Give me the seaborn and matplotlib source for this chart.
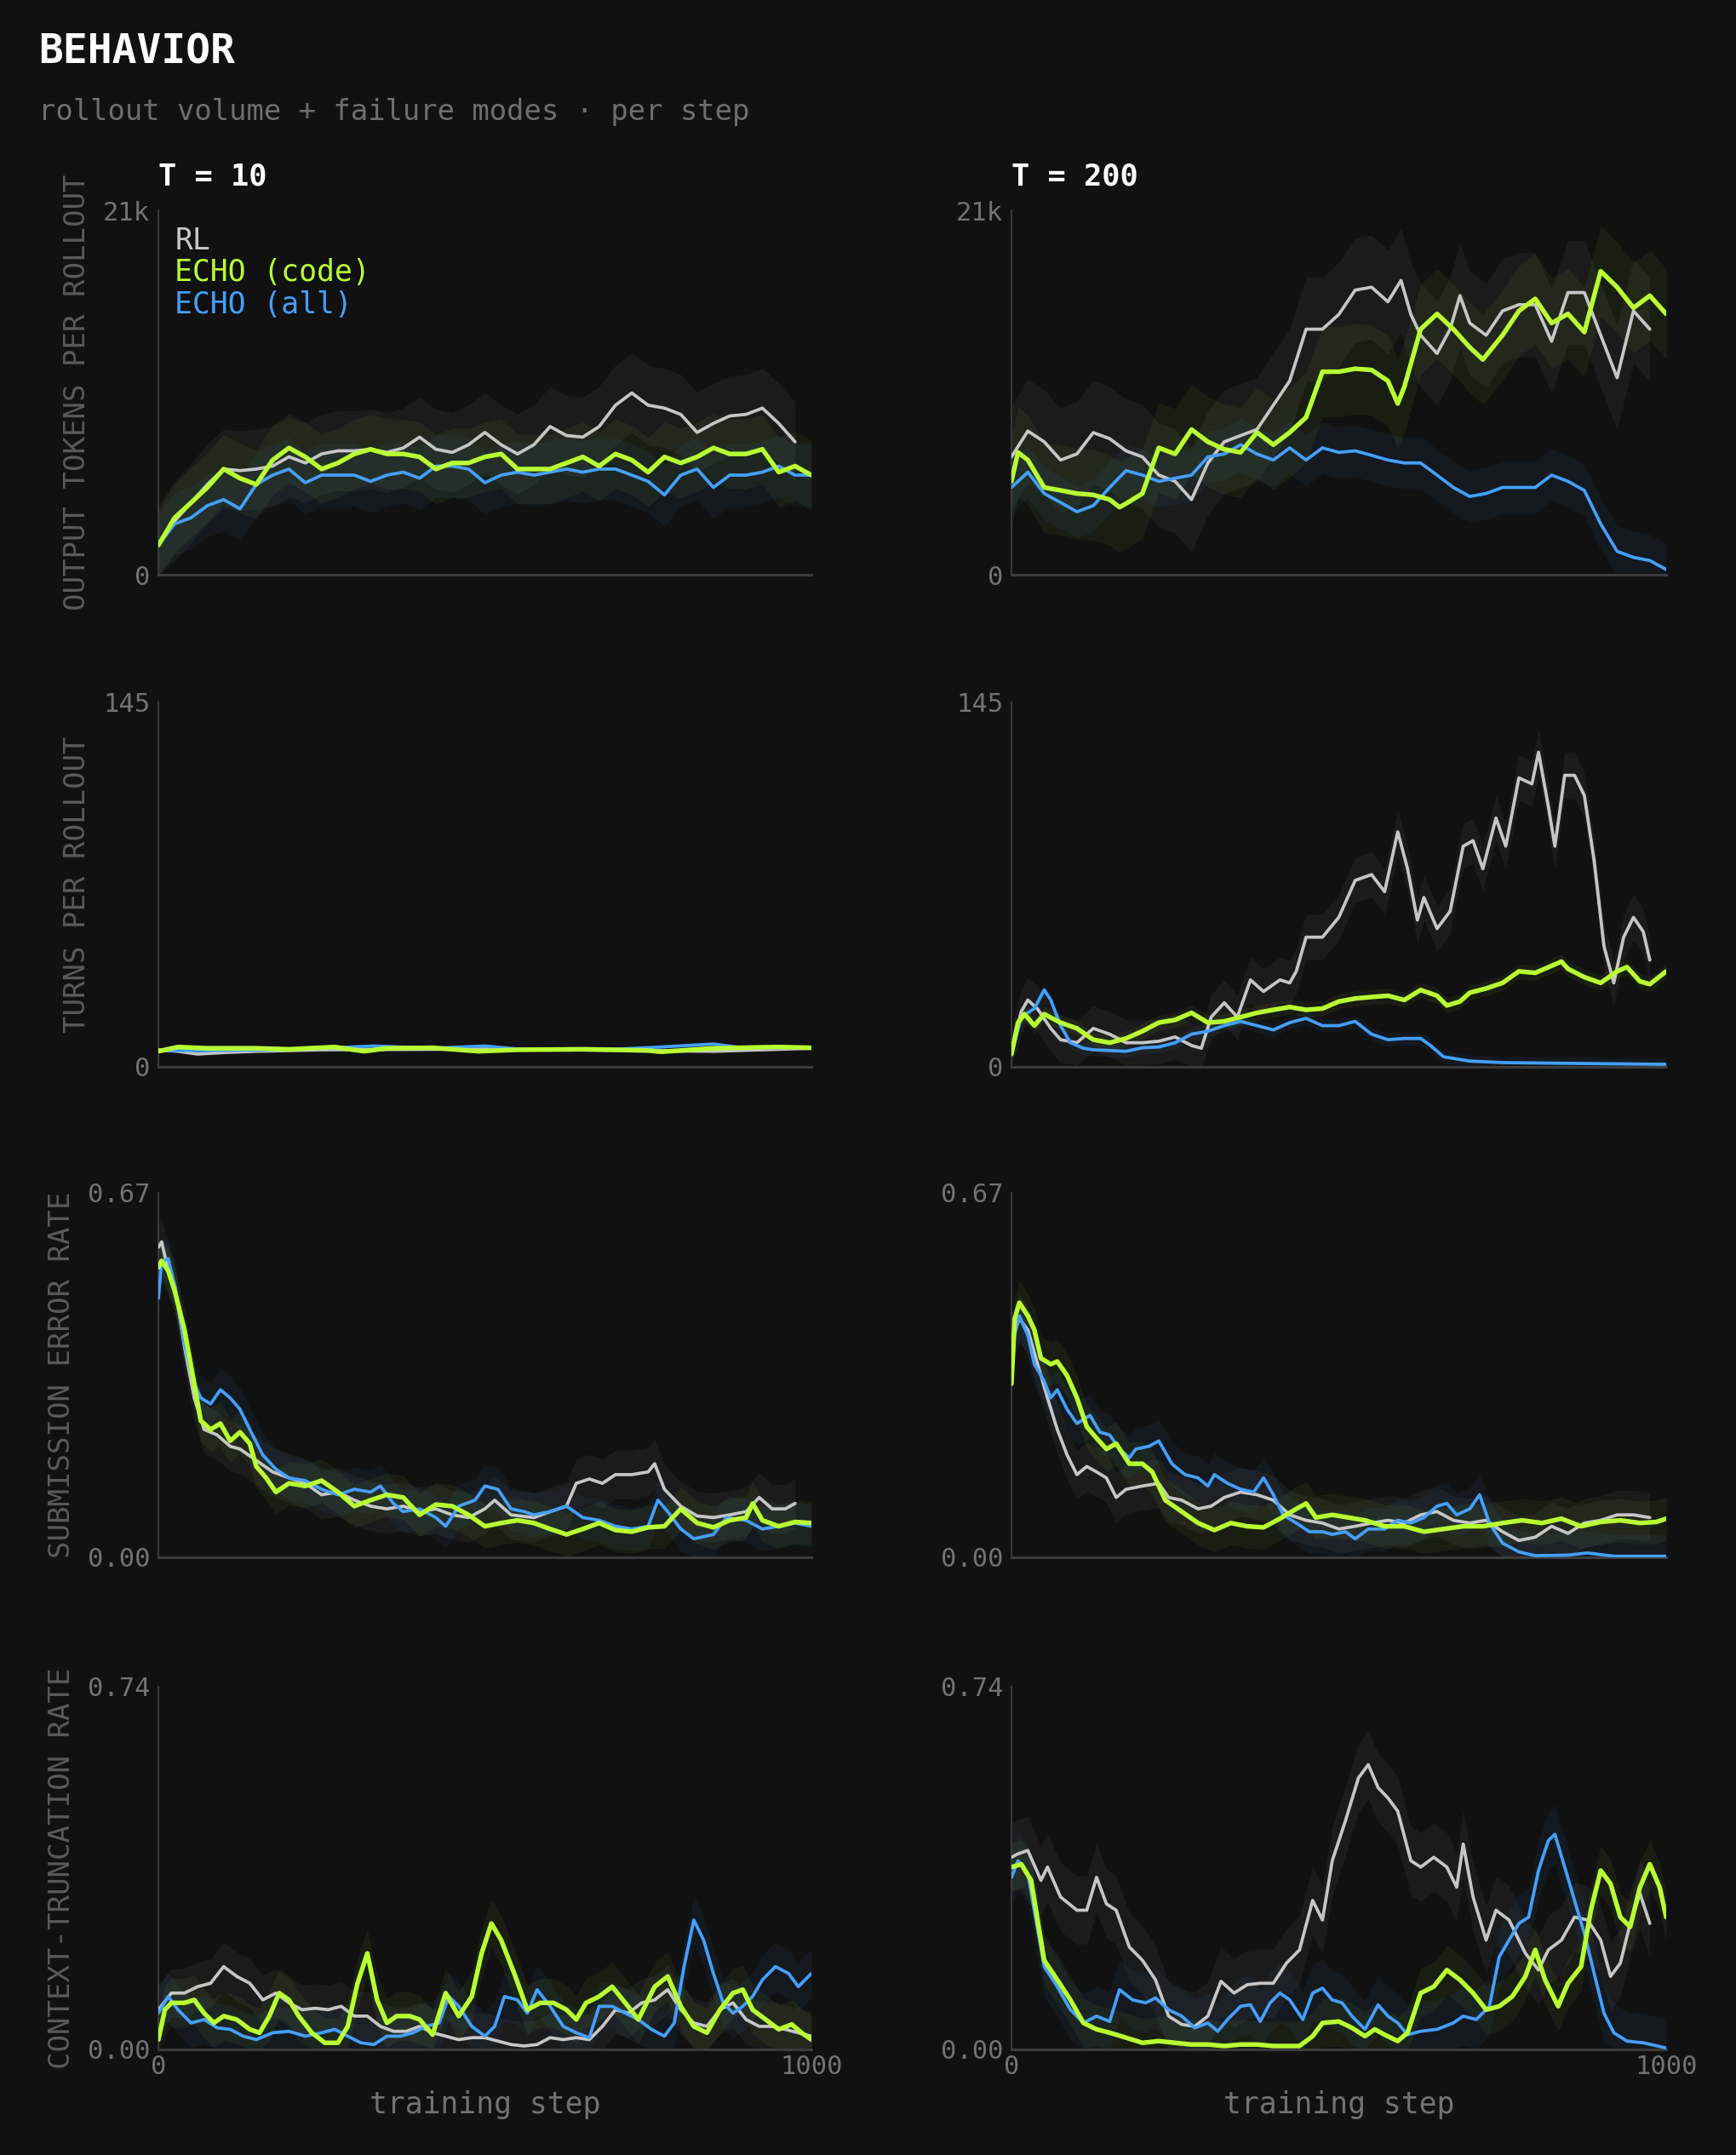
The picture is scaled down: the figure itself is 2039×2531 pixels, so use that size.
import matplotlib
matplotlib.use("Agg")
import matplotlib.pyplot as plt
import seaborn as sns
import pandas as pd

# ---------------- data ----------------
series_names = ["RL", "ECHO (code)", "ECHO (all)"]
col_titles = ["T = 10", "T = 200"]
row_labels = ["OUTPUT TOKENS PER ROLLOUT", "TURNS PER ROLLOUT",
              "SUBMISSION ERROR RATE", "CONTEXT-TRUNCATION RATE"]
row_ymax = [21000, 145, 0.67, 0.74]
row_yticklabels = [["0", "21k"], ["0", "145"], ["0.00", "0.67"], ["0.00", "0.74"]]
x_ticks = [0, 1000]
x_ticklabels = ["0", "1000"]

# Output tokens, T=10
tok10_rl = [(0,1700),(25,3100),(50,4150),(75,5200),(100,6090),(125,6000),(150,6090),(175,6260),(200,6800),(225,6440),(250,6960),(275,7140),(300,7140),(325,7230),(350,7050),(375,7300),(400,7930),(425,7230),(450,7050),(475,7490),(500,8200),(525,7490),(550,6960),(575,7490),(600,8540),(625,8020),(650,7930),(675,8540),(700,9770),(725,10470),(750,9770),(775,9600),(800,9240),(825,8200),(850,8720),(875,9150),(900,9240),(925,9600),(950,8720),(975,7660)]
tok10_code = [(0,1700),(25,3280),(50,4150),(75,5030),(100,6090),(125,5560),(150,5200),(175,6610),(200,7310),(225,6790),(250,6090),(275,6440),(300,6960),(325,7230),(350,6960),(375,6960),(400,6790),(425,6090),(450,6440),(475,6440),(500,6790),(525,6960),(550,6090),(575,6090),(600,6090),(625,6440),(650,6790),(675,6260),(700,6960),(725,6610),(750,5910),(775,6790),(800,6440),(825,6790),(850,7310),(875,6960),(900,6960),(925,7230),(950,5910),(975,6260),(1000,5740)]
tok10_all = [(0,1700),(25,2930),(50,3280),(75,3980),(100,4330),(125,3800),(150,5200),(175,5740),(200,6090),(225,5300),(250,5740),(275,5740),(300,5740),(325,5380),(350,5740),(375,5910),(400,5560),(425,6260),(450,6260),(475,6090),(500,5300),(525,5740),(550,5910),(575,5740),(600,5910),(625,6090),(650,5910),(675,6090),(700,6090),(725,5740),(750,5380),(775,4600),(800,5740),(825,6090),(850,5030),(875,5740),(900,5740),(925,5910),(950,6260),(975,5740),(1000,5740)]

# Output tokens, T=200
tok200_rl = [(0,6790),(25,8280),(50,7660),(75,6610),(100,6960),(125,8190),(150,7840),(175,7140),(200,6790),(225,5740),(250,5380),(275,4330),(300,6440),(325,7660),(350,8020),(375,8370),(400,9770),(425,11170),(450,14150),(475,14150),(500,15000),(525,16400),(550,16570),(575,15730),(595,16960),(610,15000),(625,13800),(650,12750),(670,14150),(685,16080),(700,14500),(725,13800),(750,15200),(775,15560),(800,15560),(825,13450),(850,16260),(875,16260),(900,13800),(925,11350),(950,15200),(975,14150)]
tok200_code = [(0,5380),(10,7050),(25,6610),(50,5030),(75,4860),(100,4680),(125,4600),(150,4330),(165,3890),(175,4100),(200,4680),(225,7310),(250,6960),(275,8370),(300,7660),(325,7230),(350,7050),(375,8200),(400,7490),(425,8200),(450,9070),(475,11700),(500,11700),(525,11870),(550,11800),(575,11170),(590,9860),(600,10820),(625,14150),(650,15030),(675,14150),(700,13100),(720,12400),(750,13800),(775,15200),(800,15900),(825,14500),(850,15030),(875,13980),(900,17490),(925,16570),(950,15380),(975,16080),(1000,15030)]
tok200_all = [(0,5030),(25,5910),(50,4680),(75,4160),(100,3630),(125,3980),(150,5030),(175,6000),(200,5740),(225,5380),(250,5560),(275,5740),(300,6790),(325,6960),(350,7490),(375,6960),(400,6610),(425,7310),(450,6610),(475,7310),(500,7050),(525,7140),(550,6880),(575,6610),(600,6440),(625,6440),(650,5740),(675,5030),(700,4510),(725,4680),(750,5030),(775,5030),(800,5030),(825,5740),(850,5380),(875,4860),(900,2930),(925,1350),(950,1000),(975,820),(1000,300)]

# Turns per rollout, T=10
turn10_rl = [(0,6.8),(30,6.2),(60,5.1),(100,5.7),(150,6.2),(250,6.8),(500,7.1),(700,6.6),(850,6.2),(1000,7.4)]
turn10_code = [(0,6.2),(30,7.9),(75,7.4),(150,7.4),(200,7.0),(270,7.9),(315,6.2),(350,7.4),(420,7.6),(490,6.2),(550,6.8),(650,7.0),(700,6.8),(750,6.5),(770,6.0),(850,7.4),(950,7.9),(1000,7.6)]
turn10_all = [(0,6.5),(50,6.5),(200,6.8),(330,8.3),(420,7.4),(500,8.3),(550,7.1),(700,7.0),(770,7.9),(850,9.1),(900,7.4),(1000,7.6)]

# Turns per rollout, T=200
turn200_rl = [(0,6.2),(15,22),(25,26.6),(40,23),(60,15.3),(75,10.8),(100,9.6),(125,15.3),(150,13),(175,9.6),(200,9.6),(225,10.2),(250,11.9),(275,8.5),(290,7.4),(305,19.8),(325,25.5),(345,19.8),(365,34.6),(385,30),(410,34.6),(425,33.4),(435,38),(450,51.6),(475,51.6),(500,59.5),(525,74.2),(550,76.5),(570,69.7),(590,93.5),(605,78.8),(620,58.4),(630,67.4),(650,55),(670,61.9),(690,87.8),(705,90),(720,78.8),(740,99),(755,87.8),(775,115),(795,112.6),(805,125.2),(820,103.7),(830,87.8),(845,116),(860,116),(875,108),(890,82),(905,48),(920,33.4),(935,51.6),(950,59.5),(965,53.8),(975,42.5)]
turn200_code = [(0,5.1),(10,17.6),(20,21),(35,16.4),(50,21),(75,17.6),(100,15.3),(125,10.8),(150,9.6),(175,11.3),(200,14.2),(225,17.6),(250,18.7),(275,21.5),(300,17.6),(325,18.1),(350,19.8),(375,21.5),(400,22.7),(425,23.8),(450,22.7),(475,23.2),(500,26),(525,27.2),(550,27.8),(575,28.3),(600,26.6),(625,30.6),(650,28.3),(665,24.4),(685,26),(700,29.5),(725,31.2),(750,33.4),(775,38),(800,37.4),(825,40.2),(840,41.9),(850,39),(875,35.7),(900,33.4),(925,38),(940,39.7),(960,34),(975,32.9),(1000,38)]
turn200_all = [(0,5.1),(15,19.8),(35,23.2),(50,30.6),(60,26.6),(75,16.4),(90,9.6),(110,7.4),(125,6.8),(150,6.5),(175,6.2),(200,7.6),(225,7.9),(250,9.6),(275,13),(300,14.2),(325,16.4),(350,18.1),(375,16.4),(400,14.7),(425,17.6),(450,19.3),(475,16.4),(500,16.4),(525,18.1),(550,13),(575,10.8),(600,11.3),(625,11.3),(640,8.5),(660,4),(700,2.3),(750,1.7),(850,1.4),(1000,1.0)]

# Submission error rate, T=10
sub10_rl = [(0,0.57),(5,0.58),(15,0.527),(25,0.50),(40,0.387),(55,0.293),(70,0.235),(90,0.225),(110,0.204),(125,0.199),(150,0.178),(175,0.157),(200,0.146),(225,0.136),(250,0.115),(275,0.12),(300,0.105),(325,0.094),(350,0.089),(375,0.094),(400,0.084),(425,0.089),(450,0.078),(475,0.073),(500,0.089),(515,0.105),(540,0.078),(575,0.073),(600,0.084),(625,0.094),(640,0.136),(660,0.144),(680,0.136),(700,0.152),(725,0.152),(750,0.157),(760,0.172),(775,0.125),(800,0.094),(825,0.076),(850,0.073),(875,0.078),(900,0.084),(920,0.11),(940,0.089),(960,0.089),(975,0.099)]
sub10_code = [(0,0.533),(5,0.545),(15,0.527),(25,0.49),(40,0.418),(55,0.319),(65,0.251),(80,0.235),(95,0.246),(110,0.214),(125,0.23),(140,0.209),(150,0.167),(165,0.146),(180,0.12),(200,0.136),(225,0.131),(250,0.141),(275,0.12),(300,0.094),(325,0.105),(350,0.115),(375,0.11),(400,0.078),(425,0.097),(450,0.094),(475,0.078),(500,0.057),(525,0.063),(550,0.068),(575,0.063),(600,0.052),(625,0.042),(650,0.052),(675,0.063),(700,0.05),(725,0.047),(750,0.055),(775,0.057),(800,0.089),(825,0.063),(850,0.055),(875,0.068),(900,0.073),(910,0.099),(925,0.068),(950,0.057),(975,0.065),(1000,0.063)]
sub10_all = [(0,0.476),(5,0.543),(15,0.549),(25,0.50),(40,0.392),(55,0.319),(65,0.293),(80,0.282),(95,0.308),(110,0.293),(125,0.272),(140,0.235),(160,0.188),(180,0.162),(200,0.146),(225,0.141),(250,0.125),(275,0.115),(300,0.125),(325,0.12),(340,0.131),(360,0.099),(375,0.084),(400,0.089),(425,0.073),(440,0.057),(460,0.094),(485,0.105),(500,0.131),(520,0.125),(540,0.089),(560,0.084),(575,0.078),(600,0.084),(625,0.094),(650,0.073),(675,0.068),(700,0.057),(725,0.052),(750,0.057),(765,0.105),(780,0.084),(800,0.052),(820,0.034),(850,0.042),(870,0.073),(900,0.068),(925,0.052),(950,0.057),(975,0.063),(1000,0.057)]

# Submission error rate, T=200
sub200_rl = [(0,0.40),(12,0.439),(25,0.418),(40,0.355),(55,0.293),(70,0.235),(85,0.188),(100,0.152),(115,0.167),(130,0.157),(145,0.146),(160,0.11),(175,0.125),(200,0.131),(225,0.136),(240,0.11),(260,0.105),(285,0.089),(305,0.094),(325,0.11),(350,0.12),(375,0.115),(400,0.105),(425,0.078),(450,0.068),(475,0.063),(500,0.052),(525,0.057),(550,0.063),(575,0.068),(600,0.063),(625,0.078),(650,0.084),(675,0.068),(700,0.063),(725,0.068),(750,0.047),(775,0.031),(800,0.037),(825,0.057),(850,0.044),(875,0.063),(900,0.068),(925,0.078),(950,0.078),(975,0.073)]
sub200_code = [(0,0.319),(5,0.439),(12,0.468),(25,0.444),(35,0.418),(45,0.366),(60,0.355),(70,0.36),(85,0.334),(100,0.293),(115,0.24),(130,0.219),(145,0.199),(160,0.209),(180,0.172),(200,0.172),(215,0.157),(235,0.105),(260,0.084),(285,0.063),(310,0.05),(335,0.063),(360,0.057),(385,0.055),(410,0.071),(435,0.089),(450,0.099),(465,0.073),(490,0.078),(515,0.073),(540,0.068),(570,0.057),(600,0.057),(630,0.047),(660,0.052),(690,0.057),(720,0.057),(750,0.063),(780,0.068),(810,0.063),(840,0.071),(870,0.057),(900,0.065),(930,0.068),(960,0.063),(985,0.065),(1000,0.071)]
sub200_all = [(0,0.387),(12,0.444),(25,0.408),(35,0.355),(50,0.324),(60,0.293),(70,0.308),(85,0.272),(100,0.246),(120,0.261),(135,0.23),(150,0.225),(165,0.199),(180,0.183),(190,0.199),(210,0.204),(225,0.214),(245,0.172),(265,0.152),(285,0.146),(300,0.131),(310,0.152),(330,0.136),(350,0.125),(370,0.12),(385,0.146),(400,0.115),(415,0.078),(435,0.063),(455,0.047),(475,0.047),(490,0.042),(510,0.047),(525,0.034),(545,0.052),(570,0.052),(590,0.068),(610,0.063),(630,0.073),(650,0.094),(665,0.099),(680,0.078),(700,0.089),(715,0.115),(730,0.063),(750,0.026),(775,0.010),(800,0.003),(850,0.004),(880,0.008),(920,0.002),(1000,0.002)]

# Context-truncation rate, T=10
ctx10_rl = [(0,0.081),(20,0.115),(40,0.115),(60,0.128),(80,0.135),(100,0.169),(120,0.149),(140,0.135),(160,0.101),(180,0.115),(200,0.095),(220,0.081),(240,0.084),(260,0.081),(280,0.088),(300,0.068),(320,0.068),(340,0.047),(360,0.037),(380,0.037),(400,0.047),(420,0.034),(440,0.027),(460,0.02),(480,0.024),(500,0.024),(520,0.017),(540,0.01),(560,0.007),(580,0.01),(600,0.024),(620,0.02),(640,0.024),(660,0.02),(680,0.047),(700,0.081),(720,0.074),(740,0.095),(760,0.101),(780,0.122),(800,0.081),(820,0.054),(840,0.047),(860,0.081),(880,0.095),(900,0.061),(920,0.047),(940,0.047),(960,0.041),(980,0.034),(1000,0.027)]
ctx10_code = [(0,0.02),(10,0.081),(20,0.095),(40,0.095),(55,0.101),(70,0.074),(85,0.054),(100,0.068),(120,0.061),(140,0.041),(155,0.034),(170,0.068),(185,0.115),(200,0.101),(215,0.068),(235,0.034),(255,0.0135),(275,0.0135),(290,0.047),(305,0.135),(320,0.196),(335,0.101),(350,0.054),(365,0.068),(385,0.068),(400,0.061),(420,0.030),(440,0.115),(460,0.068),(480,0.108),(495,0.196),(510,0.257),(525,0.223),(545,0.155),(565,0.081),(585,0.095),(605,0.095),(625,0.081),(640,0.061),(655,0.095),(675,0.108),(695,0.128),(715,0.095),(735,0.061),(760,0.128),(780,0.149),(800,0.088),(820,0.047),(840,0.034),(860,0.081),(880,0.115),(895,0.122),(910,0.081),(930,0.061),(950,0.041),(970,0.051),(985,0.034),(1000,0.02)]
ctx10_all = [(0,0.074),(15,0.108),(30,0.081),(50,0.054),(70,0.061),(90,0.044),(110,0.041),(130,0.027),(150,0.02),(175,0.034),(200,0.037),(225,0.027),(250,0.034),(270,0.041),(290,0.027),(310,0.0135),(330,0.010),(350,0.027),(370,0.027),(390,0.034),(410,0.047),(430,0.054),(445,0.108),(460,0.088),(480,0.047),(500,0.027),(515,0.047),(530,0.108),(550,0.101),(565,0.074),(580,0.122),(600,0.088),(620,0.047),(640,0.034),(660,0.024),(675,0.088),(695,0.088),(715,0.074),(735,0.061),(755,0.041),(775,0.027),(790,0.054),(805,0.169),(820,0.264),(835,0.223),(850,0.155),(865,0.095),(880,0.074),(895,0.088),(910,0.108),(925,0.142),(945,0.169),(965,0.155),(980,0.128),(1000,0.155)]

# Context-truncation rate, T=200
ctx200_rl = [(0,0.392),(10,0.399),(25,0.406),(45,0.345),(55,0.372),(75,0.311),(100,0.284),(115,0.284),(130,0.351),(145,0.297),(160,0.284),(180,0.209),(200,0.182),(220,0.142),(240,0.068),(260,0.051),(280,0.047),(300,0.068),(320,0.139),(340,0.115),(360,0.132),(380,0.135),(400,0.135),(420,0.176),(440,0.203),(460,0.304),(475,0.264),(490,0.385),(510,0.466),(530,0.554),(545,0.581),(560,0.534),(575,0.513),(590,0.486),(610,0.385),(625,0.372),(645,0.392),(665,0.372),(680,0.331),(690,0.419),(705,0.311),(725,0.223),(740,0.284),(760,0.264),(785,0.196),(805,0.162),(820,0.203),(840,0.223),(860,0.27),(880,0.264),(900,0.223),(915,0.149),(930,0.176),(945,0.257),(960,0.318),(975,0.257)]
ctx200_code = [(0,0.372),(15,0.378),(30,0.345),(50,0.182),(70,0.142),(90,0.101),(110,0.054),(130,0.041),(150,0.034),(175,0.024),(200,0.0135),(225,0.017),(250,0.0135),(275,0.01),(300,0.01),(325,0.007),(350,0.01),(375,0.01),(400,0.007),(425,0.007),(440,0.007),(460,0.027),(475,0.054),(500,0.057),(520,0.044),(540,0.027),(555,0.041),(570,0.030),(590,0.017),(605,0.034),(625,0.115),(645,0.128),(665,0.162),(685,0.142),(705,0.115),(725,0.081),(745,0.088),(765,0.108),(785,0.149),(800,0.203),(815,0.142),(835,0.088),(850,0.135),(870,0.169),(885,0.284),(900,0.365),(915,0.338),(930,0.27),(945,0.25),(960,0.331),(975,0.378),(990,0.331),(1000,0.27)]
ctx200_all = [(0,0.351),(10,0.385),(25,0.358),(50,0.169),(70,0.128),(90,0.081),(110,0.054),(130,0.068),(150,0.057),(165,0.122),(185,0.101),(205,0.095),(220,0.105),(240,0.081),(260,0.068),(280,0.044),(300,0.054),(315,0.037),(330,0.061),(350,0.088),(365,0.091),(380,0.057),(395,0.095),(410,0.115),(425,0.101),(445,0.061),(460,0.115),(475,0.125),(490,0.101),(505,0.095),(520,0.068),(540,0.041),(560,0.091),(575,0.068),(590,0.054),(605,0.030),(625,0.037),(650,0.041),(675,0.054),(690,0.068),(710,0.061),(730,0.088),(745,0.189),(760,0.223),(775,0.257),(790,0.27),(805,0.365),(820,0.426),(830,0.439),(845,0.372),(860,0.304),(875,0.237),(890,0.155),(905,0.074),(920,0.034),(940,0.017),(965,0.0135),(1000,0.003)]

# half-width of the faint per-step scatter around each smoothed curve (RL, code, all)
raw_spread = {
    (0, 0): [2300, 2000, 1800], (0, 1): [3000, 2600, 1500],
    (1, 0): [0.8, 0.8, 0.8],    (1, 1): [9, 3, 2.5],
    (2, 0): [0.045, 0.04, 0.04], (2, 1): [0.045, 0.04, 0.04],
    (3, 0): [0.05, 0.05, 0.05],  (3, 1): [0.07, 0.05, 0.06],
}

panels = {
    (0, 0): [tok10_rl, tok10_code, tok10_all],
    (0, 1): [tok200_rl, tok200_code, tok200_all],
    (1, 0): [turn10_rl, turn10_code, turn10_all],
    (1, 1): [turn200_rl, turn200_code, turn200_all],
    (2, 0): [sub10_rl, sub10_code, sub10_all],
    (2, 1): [sub200_rl, sub200_code, sub200_all],
    (3, 0): [ctx10_rl, ctx10_code, ctx10_all],
    (3, 1): [ctx200_rl, ctx200_code, ctx200_all],
}

# ---------------- style ----------------
BG = "#111111"
COLORS = ["#c6c6c6", "#b8ff33", "#44a0ff"]
LW = [2.7, 3.9, 2.7]
ZO = [3, 5, 4]
TICK_C = "#727272"
LABEL_C = "#5a5a5a"
SPINE_C = "#3c3c3c"

sns.set_theme(style="dark")
plt.rcParams["font.family"] = ["DejaVu Sans Mono", "DejaVu Sans"]
plt.rcParams["figure.facecolor"] = BG
plt.rcParams["axes.facecolor"] = BG
plt.rcParams["savefig.facecolor"] = BG

W, H = 2039, 2531
fig = plt.figure(figsize=(W / 100, H / 100), dpi=100)

col_left = [186 / W, 1188 / W]
col_width = [767 / W, 769 / W]
row_top = [247, 825, 1401, 1981]
row_bot = [675, 1253, 1829, 2407]

for (r, c), sers in panels.items():
    ax = fig.add_axes([col_left[c], 1 - row_bot[r] / H, col_width[c],
                       (row_bot[r] - row_top[r]) / H])
    ax.set_facecolor(BG)
    ymax = row_ymax[r]
    for i, ser in enumerate(sers):
        df = pd.DataFrame(ser, columns=["step", "value"])
        sp = raw_spread[(r, c)][i]
        ax.fill_between(df["step"], (df["value"] - sp).clip(lower=0),
                        (df["value"] + sp).clip(upper=ymax),
                        color=COLORS[i], alpha=0.06, lw=0, zorder=1)
        sns.lineplot(data=df, x="step", y="value", ax=ax, color=COLORS[i],
                     linewidth=LW[i], estimator=None, sort=False,
                     zorder=ZO[i], solid_joinstyle="round")
    ax.set_xlim(0, 1000)
    ax.set_ylim(0, ymax)
    ax.grid(False)
    for s in ["top", "right"]:
        ax.spines[s].set_visible(False)
    ax.spines["left"].set_color(SPINE_C)
    ax.spines["left"].set_linewidth(1.4)
    ax.spines["bottom"].set_color(SPINE_C)
    ax.spines["bottom"].set_linewidth(2.2)
    ax.set_yticks([0, ymax])
    ax.set_yticklabels(row_yticklabels[r])
    ax.tick_params(axis="y", length=0, pad=7, labelsize=22, labelcolor=TICK_C)
    if c == 0:
        ax.set_ylabel(row_labels[r], fontsize=24.5, color=LABEL_C, labelpad=10)
    else:
        ax.set_ylabel("")
    if r == 3:
        ax.set_xticks(x_ticks)
        ax.set_xticklabels(x_ticklabels)
        ax.tick_params(axis="x", length=0, pad=4, labelsize=22, labelcolor=TICK_C)
        ax.set_xlabel("training step", fontsize=25, color=TICK_C, labelpad=10)
    else:
        ax.set_xticks([])
        ax.set_xlabel("")
    if r == 0 and c == 0:
        for i, name in enumerate(series_names):
            ax.text(0.025, 0.917 - i * 0.088, name, transform=ax.transAxes,
                    color=COLORS[i], fontsize=25, va="center", ha="left")

for c, t in enumerate(col_titles):
    fig.text(col_left[c], 1 - 207 / H, t, color="white", fontsize=25.5,
             fontweight="bold", va="center", ha="left")

fig.text(45 / W, 1 - 61 / H, "BEHAVIOR", color="white", fontsize=34.5,
         fontweight="bold", va="center", ha="left")
fig.text(45 / W, 1 - 132 / H, "rollout volume + failure modes \u00b7 per step",
         color="#6e6e6e", fontsize=24.4, va="center", ha="left")

fig.savefig("out.png", dpi=100, facecolor=BG)
